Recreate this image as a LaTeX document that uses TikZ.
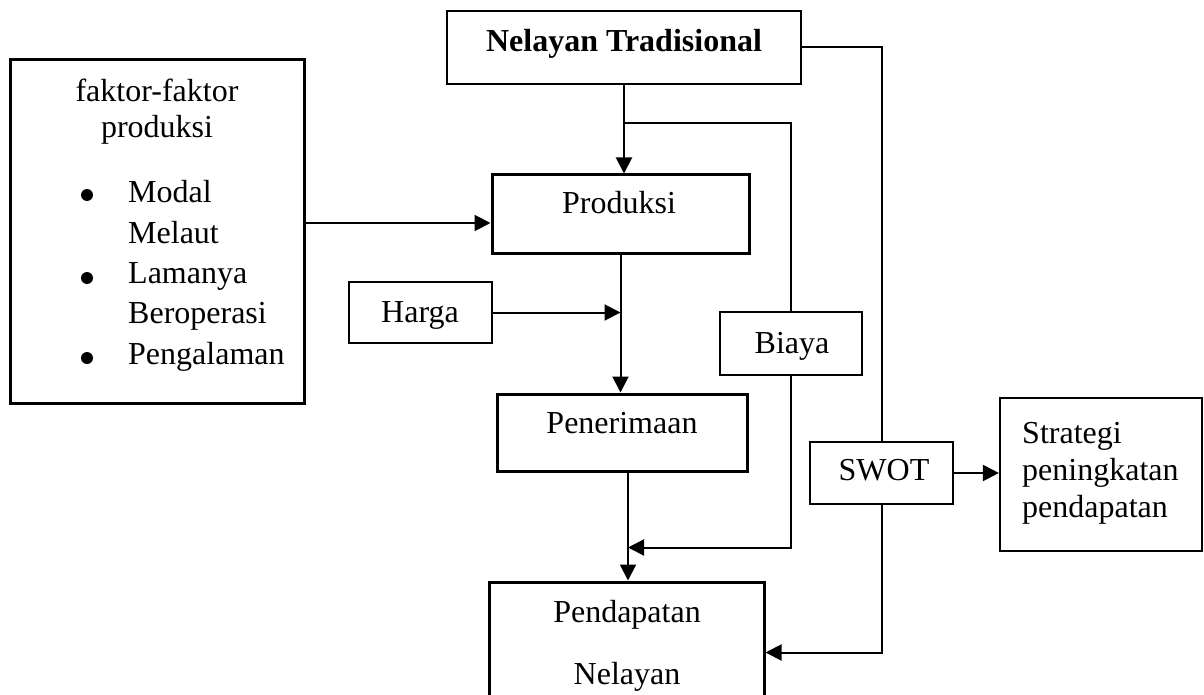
\documentclass[tikz,border=0pt]{standalone}
\usepackage{fontspec}
\setmainfont{Liberation Serif}
\usetikzlibrary{arrows.meta,calc}
\begin{document}
\begin{tikzpicture}[x=1pt,y=-1pt,
  every node/.style={font=\fontsize{32}{38}\selectfont},
  thickbox/.style={draw,line width=3pt,inner sep=0pt},
  thinbox/.style={draw,line width=2.2pt,inner sep=0pt},
  txt/.style={anchor=base,inner sep=0pt},
  conn/.style={line width=2pt},
  arr/.style={conn,-{Triangle[length=16pt,width=16pt]}}]
\useasboundingbox (0,0) rectangle (1204,695);
\clip (0,0) rectangle (1204,695);
% boxes
\node[draw,line width=2.6pt,inner sep=0pt,minimum width=354pt,minimum height=73pt] (nt) at (624,47.5) {};
\node[thickbox,minimum width=294pt,minimum height=343pt] (fak) at (157,231.5) {};
\node[thickbox,minimum width=257pt,minimum height=78pt] (prod) at (620.5,214) {};
\node[thinbox,minimum width=143pt,minimum height=61pt] (harga) at (420.5,312.5) {};
\node[thinbox,minimum width=142pt,minimum height=63pt] (biaya) at (791,343.5) {};
\node[thickbox,minimum width=250pt,minimum height=77pt] (pen) at (622,432.5) {};
\node[thickbox,minimum width=275pt,minimum height=158pt] (pend) at (626.5,661) {};
\node[thinbox,minimum width=143pt,minimum height=62pt] (swot) at (881.5,473) {};
\node[thinbox,minimum width=202pt,minimum height=153pt] (strat) at (1101,474.5) {};
% texts
\node[txt,font=\fontsize{32}{38}\selectfont\bfseries] (tnt) at (624,52) {Nelayan Tradisional};
\node[txt] (tf1) at (157,102) {faktor-faktor};
\node[txt] (tf2) at (157,138) {produksi};
\node[txt,anchor=base west] (tl1) at (128,203) {Modal};
\node[txt,anchor=base west] (tl2) at (128,243) {Melaut};
\node[txt,anchor=base west] (tl3) at (128,283) {Lamanya};
\node[txt,anchor=base west] (tl4) at (128,323) {Beroperasi};
\node[txt,anchor=base west] (tl5) at (128,364) {Pengalaman};
\fill (87,195) circle (6pt);
\fill (87,278) circle (6pt);
\fill (87,358) circle (6pt);
\node[txt] (tprod) at (619,213) {Produksi};
\node[txt] (tharga) at (420,322) {Harga};
\node[txt] (tbiaya) at (792,353) {Biaya};
\node[txt] (tpen) at (622,433) {Penerimaan};
\node[txt] (tpd1) at (627,622) {Pendapatan};
\node[txt] (tpd2) at (627,684) {Nelayan};
\node[txt] (tswot) at (884,480) {SWOT};
\node[txt,anchor=base west] (ts1) at (1022,443) {Strategi};
\node[txt,anchor=base west] (ts2) at (1022,480) {peningkatan};
\node[txt,anchor=base west] (ts3) at (1022,517) {pendapatan};
% connectors
\draw[conn] (nt.east) -| (swot.north);
\draw[arr] (nt.south) -- (nt.south |- prod.north);
\coordinate (br) at ($(nt.south)+(0,38)$);
\draw[conn] (br) -| (biaya.north);
\coordinate (fp) at ($(prod.west)+(0,9)$);
\draw[arr] (fak.east |- fp) -- (fp);
\draw[arr] (prod.south) -- (prod.south |- pen.north);
\draw[arr] (harga.east) -- (harga.east -| prod.south);
\coordinate (ps) at ($(pen.south)+(6,0)$);
\draw[arr] (ps) -- (ps |- pend.north);
\coordinate (j) at ($(ps)+(0,75)$);
\draw[arr] (biaya.south) |- (j);
\draw[arr] (swot.east) -- (swot.east -| strat.west);
\coordinate (pe) at ($(pend.north east)+(0,72)$);
\draw[arr] (swot.south) |- (pe);
\end{tikzpicture}
\end{document}
